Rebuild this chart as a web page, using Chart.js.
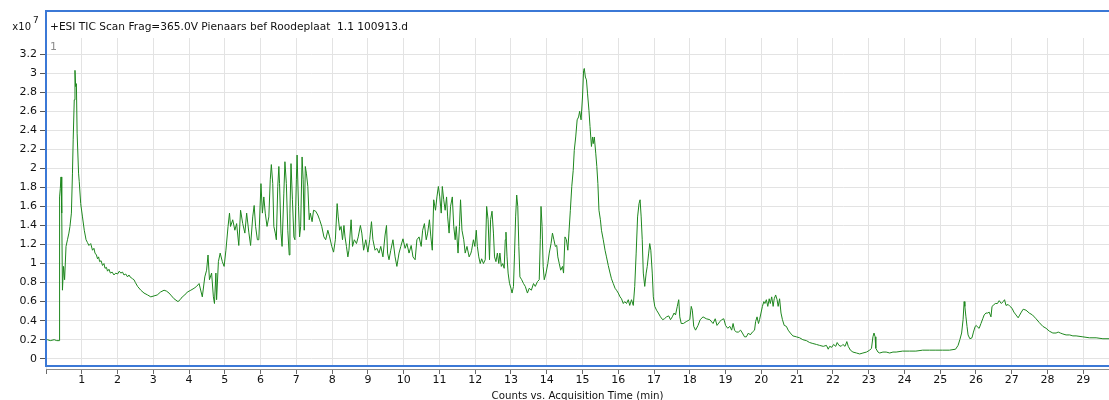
<!DOCTYPE html>
<html>
<head>
<meta charset="utf-8">
<script src="https://cdn.jsdelivr.net/npm/chart.js@4"></script>
<style>
  html, body { margin: 0; padding: 0; background: #fff; }
</style>
</head>
<body>
<canvas id="ticChart" width="1109" height="400"></canvas>
<script>
// TIC trace, time in minutes, counts in units of 1e7
const acqTime = [
  0.00, 0.04, 0.12, 0.23, 0.30, 0.37, 0.38, 0.40, 0.42, 0.44, 0.46, 0.49, 0.52, 0.56, 0.60, 0.64, 0.67, 0.71,
  0.74, 0.76, 0.79, 0.81, 0.83, 0.85, 0.87, 0.91, 0.93, 0.97, 1.02, 1.07, 1.12,
  1.16, 1.20, 1.25, 1.30, 1.34, 1.37, 1.41, 1.44, 1.47, 1.50, 1.54, 1.58, 1.62, 1.65, 1.69, 1.72, 1.76, 1.80,
  1.85, 1.90, 1.95, 2.00, 2.05, 2.09, 2.14, 2.18, 2.23, 2.28, 2.32, 2.35, 2.42, 2.46, 2.50, 2.56,
  2.65, 2.74, 2.84, 2.93, 3.02, 3.11, 3.20, 3.30, 3.37, 3.44, 3.51, 3.58, 3.69, 3.75, 3.81, 3.88, 3.95, 4.05,
  4.14, 4.21, 4.28, 4.37,
  4.44, 4.49, 4.53, 4.57, 4.63, 4.68, 4.71, 4.75, 4.77, 4.82, 4.87, 4.93, 4.98, 5.03, 5.09, 5.13, 5.16, 5.22,
  5.28, 5.33, 5.39, 5.44, 5.50, 5.56, 5.61, 5.67, 5.72, 5.78, 5.82, 5.86, 5.91,
  5.95, 6.01, 6.05, 6.09, 6.13, 6.18, 6.23, 6.27, 6.30, 6.34, 6.37, 6.41, 6.44, 6.48, 6.51, 6.53, 6.57, 6.60,
  6.65, 6.68, 6.72, 6.76, 6.80, 6.82, 6.85, 6.89, 6.93, 6.96, 7.00, 7.02, 7.06, 7.09, 7.12, 7.16, 7.19, 7.22,
  7.25, 7.28, 7.32, 7.36, 7.39, 7.44, 7.48, 7.54, 7.60, 7.65, 7.71, 7.77, 7.82, 7.88, 7.93, 7.99, 8.04, 8.09,
  8.14, 8.17, 8.21, 8.25, 8.29, 8.33, 8.36, 8.40, 8.44, 8.47, 8.53, 8.57, 8.62, 8.68, 8.73, 8.79, 8.83, 8.88,
  8.94, 9.00, 9.05, 9.10, 9.14, 9.20, 9.25, 9.31, 9.36, 9.42, 9.48, 9.52, 9.55, 9.59, 9.64, 9.70, 9.76, 9.81,
  9.87, 9.92, 9.98, 10.04, 10.09, 10.15, 10.21, 10.26, 10.32, 10.37, 10.43, 10.49, 10.53, 10.58, 10.63, 10.67,
  10.72, 10.76, 10.80, 10.84, 10.89, 10.93, 10.97, 11.01, 11.05, 11.08, 11.12, 11.16, 11.20, 11.23, 11.27,
  11.31, 11.36, 11.40, 11.44, 11.47, 11.52, 11.56, 11.59, 11.63, 11.68, 11.72, 11.77, 11.83, 11.88,
  11.90, 11.95, 11.99, 12.03, 12.06, 12.10, 12.14, 12.18, 12.23, 12.28, 12.32, 12.36, 12.40, 12.43, 12.47,
  12.51, 12.54, 12.58, 12.62, 12.66, 12.69, 12.73, 12.77, 12.81, 12.84, 12.86, 12.89, 12.92, 12.96, 13.00,
  13.03, 13.07, 13.10, 13.13, 13.16, 13.19, 13.22, 13.25, 13.30, 13.35, 13.40, 13.46, 13.51, 13.57, 13.63,
  13.68, 13.74, 13.79, 13.82, 13.84, 13.87, 13.90, 13.93, 13.98, 14.03, 14.07, 14.12, 14.16, 14.20, 14.24,
  14.28, 14.31, 14.35, 14.39, 14.44, 14.47, 14.51, 14.55, 14.59, 14.62, 14.66, 14.70, 14.74, 14.77, 14.81,
  14.85, 14.89, 14.92, 14.96, 15.00, 15.03, 15.05, 15.08, 15.11, 15.14, 15.18, 15.21, 15.25, 15.28, 15.30,
  15.33, 15.37, 15.40, 15.43, 15.46, 15.50, 15.53, 15.58, 15.63, 15.67, 15.72, 15.77, 15.81, 15.86, 15.91,
  15.95, 16.00, 16.05, 16.09, 16.14, 16.18, 16.23, 16.28, 16.32, 16.37, 16.42, 16.46, 16.50, 16.54, 16.58,
  16.61, 16.64, 16.67, 16.70, 16.74, 16.78, 16.81, 16.85, 16.88, 16.91, 16.95, 16.98, 17.02, 17.07, 17.12,
  17.18, 17.24, 17.29, 17.35, 17.41, 17.46, 17.51, 17.56, 17.60, 17.65, 17.69, 17.72, 17.76, 17.82,
  17.90, 18.00, 18.04, 18.07, 18.11, 18.16, 18.23, 18.29, 18.37, 18.46, 18.56, 18.65, 18.71, 18.76, 18.84,
  18.89, 18.95, 19.00, 19.06, 19.12, 19.17, 19.21, 19.25, 19.30, 19.36, 19.42, 19.47, 19.53, 19.58, 19.64,
  19.69, 19.75, 19.81, 19.84, 19.88, 19.92, 19.95, 19.99, 20.03, 20.07, 20.10, 20.14, 20.18, 20.22, 20.25,
  20.29, 20.33, 20.36, 20.40, 20.44, 20.47, 20.51, 20.55, 20.59, 20.64, 20.70, 20.75, 20.81, 20.88, 20.98,
  21.07, 21.16, 21.26, 21.35, 21.44, 21.54, 21.63, 21.73, 21.82, 21.87, 21.91, 21.97, 22.02, 22.08, 22.12,
  22.17, 22.23, 22.28, 22.34, 22.39, 22.43, 22.49, 22.56, 22.66, 22.75, 22.84, 22.94, 23.03, 23.08, 23.12,
  23.15, 23.18, 23.20, 23.26, 23.31, 23.40, 23.49, 23.59, 23.68, 23.77,
  23.95, 24.14, 24.32, 24.51, 24.70, 24.88, 25.07, 25.26, 25.43, 25.50, 25.55, 25.60, 25.64, 25.67, 25.69,
  25.72, 25.75, 25.78, 25.83, 25.89, 25.93, 25.98, 26.01, 26.05, 26.09, 26.14, 26.19, 26.23, 26.28, 26.33,
  26.37, 26.42, 26.45, 26.48, 26.54, 26.60, 26.65, 26.71, 26.76, 26.80, 26.84, 26.90, 26.95, 27.01, 27.06,
  27.12, 27.18, 27.21, 27.27, 27.32, 27.40, 27.49, 27.58, 27.68, 27.77, 27.87, 27.96, 28.05, 28.15, 28.24,
  28.30, 28.36, 28.43, 28.52, 28.62, 28.71, 28.80, 28.99, 29.17, 29.36, 29.55, 29.72
];

const ticCounts = [
  0.20, 0.20, 0.19, 0.20, 0.19, 0.19, 1.70, 1.79, 1.91, 1.53, 0.72, 0.97, 0.83, 1.18, 1.25, 1.32, 1.39, 1.53,
  1.95, 2.30, 2.72, 3.03, 2.86, 2.89, 2.37, 1.95, 1.86, 1.63, 1.49, 1.35, 1.25,
  1.22, 1.19, 1.21, 1.14, 1.16, 1.11, 1.09, 1.05, 1.07, 1.02, 1.03, 0.98, 1.00, 0.95, 0.96, 0.92, 0.94, 0.90,
  0.91, 0.88, 0.90, 0.89, 0.92, 0.90, 0.91, 0.88, 0.89, 0.86, 0.88, 0.86, 0.84, 0.83, 0.80, 0.76,
  0.72, 0.69, 0.67, 0.65, 0.66, 0.67, 0.70, 0.72, 0.71, 0.69, 0.66, 0.63, 0.60, 0.62, 0.65, 0.67, 0.70, 0.72,
  0.74, 0.76, 0.79, 0.65,
  0.86, 0.93, 1.09, 0.83, 0.90, 0.65, 0.58, 0.90, 0.62, 1.02, 1.11, 1.02, 0.97, 1.14, 1.39, 1.53, 1.39, 1.46,
  1.35, 1.42, 1.19, 1.56, 1.42, 1.32, 1.53, 1.33, 1.19, 1.49, 1.61, 1.39, 1.25,
  1.25, 1.84, 1.53, 1.70, 1.53, 1.39, 1.49, 1.88, 2.04, 1.84, 1.39, 1.32, 1.25, 1.81, 2.02, 1.84, 1.32, 1.18,
  1.74, 2.07, 1.84, 1.35, 1.09, 1.53, 2.05, 1.67, 1.28, 1.25, 1.88, 2.14, 1.60, 1.28, 1.39, 2.12, 1.88, 1.35,
  2.02, 1.95, 1.81, 1.46, 1.53, 1.44, 1.56, 1.55, 1.51, 1.46, 1.39, 1.28, 1.25, 1.35, 1.28, 1.18, 1.12, 1.25,
  1.63, 1.49, 1.35, 1.39, 1.25, 1.40, 1.28, 1.18, 1.07, 1.14, 1.46, 1.18, 1.25, 1.21, 1.28, 1.40, 1.32, 1.14,
  1.25, 1.12, 1.25, 1.44, 1.25, 1.14, 1.16, 1.11, 1.18, 1.07, 1.30, 1.40, 1.11, 1.04, 1.14, 1.25, 1.07, 0.97,
  1.11, 1.18, 1.26, 1.16, 1.21, 1.11, 1.19, 1.07, 1.04, 1.25, 1.28, 1.18, 1.35, 1.42, 1.25, 1.32,
  1.46, 1.28, 1.14, 1.67, 1.56, 1.70, 1.81, 1.70, 1.53, 1.81, 1.67, 1.56, 1.70, 1.49, 1.32,
  1.60, 1.70, 1.39, 1.25, 1.39, 1.11, 1.39, 1.67, 1.35, 1.25, 1.11, 1.18, 1.07, 1.11,
  1.14, 1.25, 1.18, 1.35, 1.18, 1.07, 1.00, 1.05, 1.00, 1.04, 1.60, 1.46, 1.04, 1.46, 1.55,
  1.32, 1.07, 1.02, 1.11, 1.00, 1.11, 0.97, 1.00, 0.95, 1.25, 1.33, 1.07, 0.90, 0.79, 0.74,
  0.69, 0.76, 1.11, 1.49, 1.72, 1.60, 1.18, 0.86, 0.83, 0.79, 0.76, 0.69, 0.74, 0.72, 0.79,
  0.76, 0.81, 0.83, 1.25, 1.60, 1.39, 0.97, 0.83, 0.90, 1.00, 1.11, 1.21, 1.32, 1.25, 1.18,
  1.19, 1.07, 1.00, 0.93, 0.97, 0.90, 1.28, 1.25, 1.14, 1.32, 1.56, 1.81, 1.98, 2.19, 2.33,
  2.51, 2.54, 2.60, 2.51, 2.75, 3.03, 3.05, 2.96, 2.93, 2.79, 2.61, 2.44, 2.23, 2.33, 2.26,
  2.33, 2.16, 2.02, 1.84, 1.56, 1.46, 1.35, 1.25, 1.14, 1.07, 0.98, 0.90, 0.84, 0.79, 0.74,
  0.72, 0.69, 0.65, 0.63, 0.58, 0.60, 0.58, 0.62, 0.56, 0.62, 0.56, 0.76, 1.11, 1.49, 1.63,
  1.67, 1.49, 1.25, 0.90, 0.76, 0.90, 0.97, 1.11, 1.21, 1.14, 0.90, 0.65, 0.55, 0.51, 0.48,
  0.44, 0.41, 0.42, 0.44, 0.45, 0.41, 0.44, 0.48, 0.46, 0.55, 0.62, 0.44, 0.37, 0.37,
  0.39, 0.41, 0.55, 0.51, 0.34, 0.30, 0.35, 0.41, 0.44, 0.42, 0.41, 0.37, 0.42, 0.35, 0.39,
  0.41, 0.42, 0.35, 0.32, 0.34, 0.30, 0.37, 0.30, 0.28, 0.28, 0.30, 0.27, 0.23, 0.23, 0.27,
  0.25, 0.28, 0.30, 0.39, 0.44, 0.37, 0.41, 0.48, 0.55, 0.60, 0.58, 0.62, 0.55, 0.63, 0.58,
  0.65, 0.55, 0.63, 0.67, 0.62, 0.55, 0.63, 0.48, 0.41, 0.35, 0.34, 0.30, 0.27, 0.24, 0.23,
  0.22, 0.20, 0.19, 0.17, 0.16, 0.15, 0.14, 0.13, 0.14, 0.10, 0.13, 0.12, 0.15, 0.13, 0.17,
  0.14, 0.13, 0.15, 0.13, 0.18, 0.13, 0.09, 0.07, 0.06, 0.05, 0.06, 0.07, 0.09, 0.11, 0.23,
  0.27, 0.23, 0.11, 0.07, 0.06, 0.07, 0.07, 0.06, 0.07, 0.07,
  0.08, 0.08, 0.08, 0.09, 0.09, 0.09, 0.09, 0.09, 0.10, 0.14, 0.20, 0.27, 0.41, 0.60, 0.55,
  0.44, 0.34, 0.25, 0.21, 0.22, 0.28, 0.34, 0.35, 0.33, 0.32, 0.37, 0.42, 0.46, 0.48, 0.48,
  0.49, 0.44, 0.55, 0.56, 0.58, 0.58, 0.61, 0.58, 0.60, 0.62, 0.56, 0.57, 0.55, 0.53, 0.49,
  0.46, 0.43, 0.45, 0.49, 0.52, 0.51, 0.48, 0.46, 0.42, 0.38, 0.34, 0.32, 0.29, 0.27, 0.27,
  0.28, 0.27, 0.26, 0.25, 0.25, 0.24, 0.24, 0.23, 0.22, 0.22, 0.21, 0.21
];

const xRange = [0, 29.72];
const yRange = [-0.108, 3.37];
const xStep = 1;
const yStep = 0.2;

const headerText = '+ESI TIC Scan Frag=365.0V Pienaars bef Roodeplaat  1.1 100913.d';
const xAxisTitle = 'Counts vs. Acquisition Time (min)';

const FONT = '"DejaVu Sans", Verdana, sans-serif';
const BLUE = '#3b78d6';

// frame, header and axis caption drawn straight onto the canvas
const framePlugin = {
  id: 'frame',
  afterDraw(chart) {
    const { ctx, chartArea: a, width } = chart;
    ctx.save();
    // white gap between the blue frame and the grey axis line
    ctx.fillStyle = '#fff';
    ctx.fillRect(a.left + 1, a.bottom - 2, a.right - a.left, 2);

    ctx.fillStyle = BLUE;
    ctx.fillRect(45, 10, width - 45, 2);
    ctx.fillRect(45, 10, 2, a.bottom - 12);
    ctx.fillRect(45, a.bottom - 4, width - 45, 2);

    ctx.fillStyle = '#111';
    ctx.textBaseline = 'alphabetic';
    ctx.textAlign = 'right';
    ctx.font = '10px ' + FONT;
    ctx.fillText('x10', 31, 29.5);
    ctx.textAlign = 'left';
    ctx.font = '9px ' + FONT;
    ctx.fillText('7', 33, 23);
    ctx.font = '11px ' + FONT;
    ctx.fillText(headerText, 50, 29.5, 358);

    ctx.fillStyle = '#8c8c8c';
    ctx.fillText('1', 50, 50);

    ctx.fillStyle = '#111';
    ctx.textAlign = 'center';
    ctx.fillText(xAxisTitle, (a.left + a.right) / 2, 399, 172);
    ctx.restore();
  }
};

const points = acqTime.map((t, i) => ({ x: t, y: ticCounts[i] }));

new Chart(document.getElementById('ticChart'), {
  type: 'line',
  data: {
    datasets: [{
      data: points,
      borderColor: 'rgb(30,135,30)',
      borderWidth: 1,
      pointRadius: 0,
      tension: 0,
      fill: false
    }]
  },
  options: {
    responsive: false,
    animation: false,
    layout: { padding: { top: 38, right: 0, bottom: 0, left: 0 } },
    plugins: { legend: { display: false }, tooltip: { enabled: false } },
    scales: {
      x: {
        type: 'linear',
        min: xRange[0],
        max: xRange[1],
        afterFit: (s) => { s.height = 31; },
        ticks: {
          stepSize: xStep,
          includeBounds: false,
          autoSkip: false,
          maxRotation: 0,
          padding: 0,
          color: '#111',
          font: { family: FONT, size: 11 },
          callback: (v) => (v === 0 ? '' : String(v))
        },
        grid: { color: '#e3e3e3', tickColor: '#6a6a6a', tickLength: 5 },
        border: { display: true, color: '#8c8c8c', width: 1 }
      },
      y: {
        min: yRange[0],
        max: yRange[1],
        afterFit: (s) => { s.width = 46; },
        ticks: {
          stepSize: yStep,
          includeBounds: false,
          padding: 3,
          color: '#111',
          font: { family: FONT, size: 11 },
          callback: (v) => String(Math.round(v * 10) / 10)
        },
        grid: { color: '#e3e3e3', tickColor: '#555', tickLength: 6 },
        border: { display: false }
      }
    }
  },
  plugins: [framePlugin]
});
</script>
</body>
</html>
